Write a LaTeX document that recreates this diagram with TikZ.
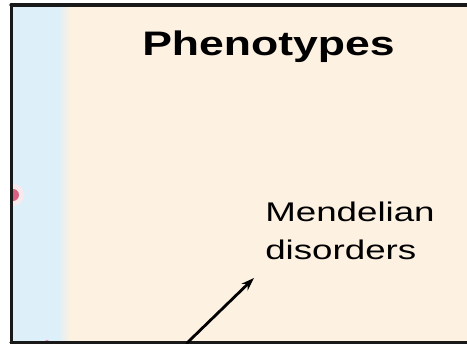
\documentclass[tikz,border=0pt]{standalone}
\usepackage{fontspec}
\newfontfamily\labelfont{Liberation Sans}
\usepackage{tikz}
\usetikzlibrary{arrows.meta}
\definecolor{stripblue}{HTML}{DDEFF8}
\definecolor{cream}{HTML}{FDF1E2}
\definecolor{dotred}{HTML}{D0456A}
\tikzset{
  every picture/.style={line join=round, line cap=round, >=Stealth},
  frame/.style={line width=3.2pt, black!90},
  title/.style={font=\labelfont\fontsize{34}{40}\selectfont\bfseries, inner sep=0pt, xscale=1.31},
  label/.style={font=\labelfont\fontsize{27}{38}\selectfont, align=left, inner sep=0pt, xscale=1.36, text=black},
}
\begin{document}
\begin{tikzpicture}[x=1pt,y=1pt]
\useasboundingbox(0,0) rectangle (467,344);
\fill[white](0,0) rectangle (467,344);
\fill[cream](12,1) rectangle (467,338);
\fill[stripblue](12,1) rectangle (58,338);
\shade[left color=stripblue, right color=cream](58,1) rectangle (70,338);
\begin{scope}
\clip(12,1) rectangle (467,338);
\fill[dotred!12](13,149) circle (11);
\fill[dotred!85](13,149) circle (6);
\fill[dotred!60](47,-1) circle (5);
\end{scope}
\draw[frame](11,339)--(467,339)
(11,1.2)--(467,1.2);
\draw[line width=2.2pt, black!90](11.5,0)--(11.5,340);
\node[title, anchor=base](pheno) at (268.5,288) {Phenotypes};
\node[label, anchor=base west](mendel) at (265,84) {Mendelian\\disorders};
\coordinate (tail) at (187,1);
\coordinate (head) at (254,66);
\draw[-{Stealth[length=13pt,width=9pt]}, line width=2.8pt](tail)--(head);
\end{tikzpicture}
\end{document}
